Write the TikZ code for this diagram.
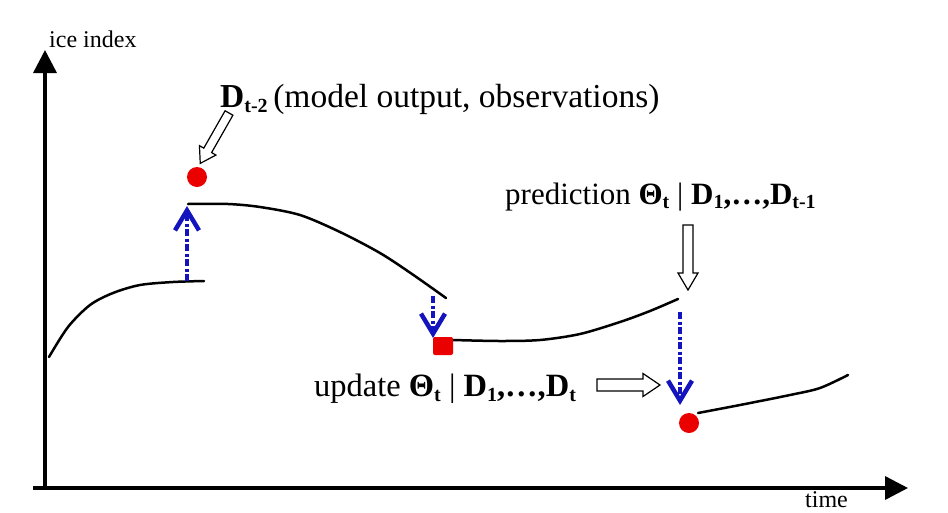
\documentclass[tikz,border=0pt]{standalone}
\usepackage{fontspec}
\setmainfont{Liberation Serif}
\usetikzlibrary{arrows.meta}
\definecolor{dblue}{RGB}{20,20,190}
\definecolor{dred}{RGB}{235,0,0}
\newcommand\lo[1]{\raisebox{-0.35ex}{\fontsize{20}{20}\selectfont\bfseries #1}}
\newcommand\blockarrow[6]{%
  \begin{scope}[shift={(#1)}, rotate=#2]
    \draw[hollow] (0,-#4) -- ({#3-#6},-#4) -- ({#3-#6},-#5) -- (#3,0) -- ({#3-#6},#5) -- ({#3-#6},#4) -- (0,#4) -- cycle;
  \end{scope}}
\tikzset{
  axis/.style={line width=3.5pt, -{Triangle[length=23pt,width=23pt]}},
  curve/.style={line width=2.5pt, line join=round, line cap=round},
  updarrow/.style={dblue, line width=3.5pt, dash pattern=on 7pt off 2.5pt on 3pt off 2.5pt,
    -{Straight Barb[length=20pt,width=24pt,line width=4.5pt]}},
  dot/.style={circle, fill=dred, inner sep=0pt, minimum size=20pt},
  hollow/.style={draw=black, line width=1.2pt, fill=white, line join=miter},
  big/.style={font=\fontsize{31}{36}\selectfont, inner sep=0pt},
  small/.style={font=\fontsize{24}{28}\selectfont, inner sep=0pt}
}
\begin{document}
\begin{tikzpicture}[x=1pt,y=-1pt]
\useasboundingbox[fill=white] (0,0) rectangle (948,512);

% axes
\coordinate (yb) at (45,490);
\coordinate (ytip) at (45,50);
\coordinate (xs) at (33,488);
\coordinate (xtip) at (908,488);
\draw[axis] (yb) -- (ytip);
\draw[axis] (xs) -- (xtip);
\node[small, anchor=base west] (ylab) at (49,47) {ice index};
\node[small, anchor=base west] (xlab) at (805,507) {time};

% curves
\draw[curve] plot[smooth] coordinates {(49,357) (68,327) (90,305) (113,293) (140,285) (173,282) (204,281)};
\draw[curve] plot[smooth] coordinates {(188,204) (228,204) (260,207) (300,215) (340,232) (380,253) (412,274) (446,298)};
\draw[curve] plot[smooth, tension=0.5] coordinates {(453,340) (500,341) (540,340) (580,334) (620,322) (650,311) (678,299)};
\draw[curve] plot[smooth] coordinates {(698,413) (740,405) (790,395) (820,388) (848,375)};

% data points
\node[dot] (d1) at (197,177) {};
\node[fill=dred, minimum width=20pt, minimum height=18pt, rounded corners=2pt, inner sep=0pt] (d2) at (443,346) {};
\node[dot] (d3) at (689,423) {};

% update arrows
\coordinate (u1s) at (187,281);
\coordinate (u1e) at (187,206);
\coordinate (u2s) at (433,296);
\coordinate (u2e) at (433,338);
\coordinate (u3s) at (680,312);
\coordinate (u3e) at (680,405);
\draw[updarrow] (u1s) -- (u1e);
\draw[updarrow] (u2s) -- (u2e);
\draw[updarrow] (u3s) -- (u3e);

% labels
\node[big, font=\fontsize{33.5}{38}\selectfont, anchor=base west] (dlab) at (220,107) {\textbf{D}\lo{t-2}\,(model output, observations)};
\node[big, anchor=base west] (pred) at (505,204) {prediction \textbf{Θ}\lo{t} | \textbf{D}\lo{1}\textbf{,…,D}\lo{t-1}};
\node[big, font=\fontsize{32.5}{37}\selectfont, anchor=base west] (updl) at (314,396) {update \textbf{Θ}\lo{t} | \textbf{D}\lo{1}\textbf{,…,D}\lo{t}};

% hollow arrows
\coordinate (ha1) at (229,113);
\coordinate (ha2) at (688,225);
\coordinate (ha3) at (597,385);
\blockarrow{ha1}{240.3}{58}{4.5}{9.5}{15}
\blockarrow{ha2}{-90}{65}{5}{10}{17}
\blockarrow{ha3}{0}{63}{6}{11.5}{17}
\end{tikzpicture}
\end{document}
